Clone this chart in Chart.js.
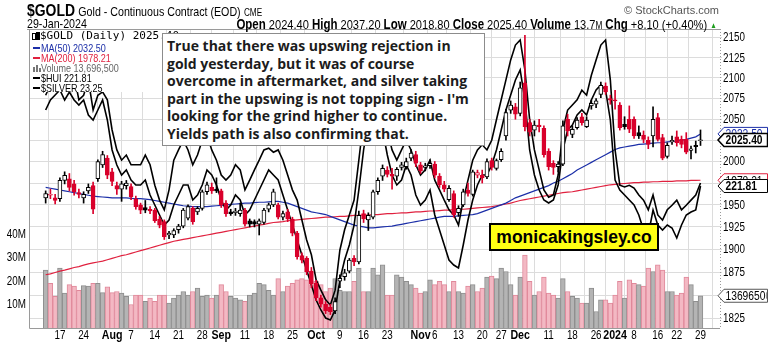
<!DOCTYPE html>
<html>
<head>
<meta charset="utf-8">
<title>$GOLD Daily</title>
<script src="https://cdn.jsdelivr.net/npm/chart.js@4.4.1/dist/chart.umd.min.js"></script>
<style>
  html, body { margin:0; padding:0; background:#fff; }
  #wrap { position:relative; width:768px; height:343px; overflow:hidden; background:#fff;
          font-family:"Liberation Sans",Arial,sans-serif; }
  #c { position:absolute; left:0; top:0; }
  /* condensed Arial look */
  .cx { display:inline-block; white-space:nowrap; transform:scaleX(0.82); transform-origin:0 50%; }
  .cxr { transform-origin:100% 50%; }
  #title { position:absolute; left:27px; top:1px; color:#000; }
  #title .sym { font-weight:bold; font-size:17px; }
  #title .nm { font-size:13px; margin-left:4px; }
  #title .ex { font-size:10px; margin-left:4px; }
  #date { position:absolute; left:27px; top:16px; font-size:13px; color:#000; }
  #quote { position:absolute; right:51px; top:16px; font-size:13.5px; color:#000; }
  #quote b { font-size:14px; }
  #quote .up { color:#1e9e1e; font-size:8px; vertical-align:1px; }
  #src { position:absolute; right:49px; top:4px; font-size:11px; color:#555; }
  #legend { position:absolute; left:30px; top:30px; width:133px; height:62px; background:#fff; }
  .row { position:absolute; left:0; white-space:nowrap; font-size:11px; line-height:12px; }
  .row .sw { position:absolute; left:3px; top:5px; width:7px; height:2px; }
  .row .tx { position:absolute; left:11px; top:0; }
  .row0 { font-family:"DejaVu Sans Mono",monospace; font-size:11px; }
  .cd { position:absolute; width:2px; border:1px solid #000; }
  .vb { position:absolute; width:2px; background:#777; }
  #note { position:absolute; left:162px; top:33px; width:323px; height:113px; background:#fff;
          border:1px solid #8c8c8c; font-family:"Open Sans",sans-serif; font-weight:700; white-space:nowrap;
          font-size:14px; line-height:17.5px; color:#1c1c1c; padding:3px 0 0 4px; box-sizing:border-box; }
  #mark { position:absolute; left:489px; top:223px; width:170px; height:28px; background:#ffff14;
          border:2px solid #000; box-sizing:border-box; font-weight:bold; font-size:17.5px;
          line-height:24px; text-align:center; color:#000; }
</style>
</head>
<body>
<div id="wrap">
  <canvas id="c" width="768" height="343"></canvas>
  <div id="title"><span class="cx"><span class="sym">$GOLD</span><span class="nm">Gold - Continuous Contract (EOD)</span><span class="ex">CME</span></span></div>
  <div id="date"><span class="cx">29-Jan-2024</span></div>
  <div id="src">© StockCharts.com</div>
  <div id="quote"><span class="cx cxr" id="quoteTx"></span></div>
  <div id="legend">
    <div class="row row0" style="top:0px">
      <span class="cd" style="left:2px;top:3px;height:5px"></span>
      <span class="cd" style="left:6px;top:2px;height:6px;background:#000"></span>
      <span class="tx" style="left:10px" id="lg0"></span>
    </div>
    <div class="row" style="top:12px;color:#1c2fa8"><span class="sw" style="background:#1c2fa8"></span><span class="tx cx" id="lg1"></span></div>
    <div class="row" style="top:22px;color:#e0213f"><span class="sw" style="background:#e0213f"></span><span class="tx cx" id="lg2"></span></div>
    <div class="row" style="top:32px;color:#666">
      <span class="vb" style="left:3px;top:5px;height:5px"></span><span class="vb" style="left:6px;top:3px;height:7px"></span><span class="vb" style="left:9px;top:6px;height:4px"></span>
      <span class="tx cx" id="lg3"></span></div>
    <div class="row" style="top:42px;color:#000"><span class="sw" style="background:#000"></span><span class="tx cx" id="lg4"></span></div>
    <div class="row" style="top:52px;color:#000"><span class="sw" style="background:#000"></span><span class="tx cx" id="lg5"></span></div>
  </div>
  <div id="note">True that there was upswing rejection in<br>gold yesterday, but it was of course<br>overcome in aftermarket, and silver taking<br>part in the upswing is not topping sign - I'm<br>looking for the grind higher to continue.<br>Yields path is also confirming that.</div>
  <div id="mark">monicakingsley.co</div>
</div>
<script>
// Daily $GOLD candles, 12-Jul-2023 .. 29-Jan-2024 (one entry per trading day)
const open = [1958,1961,1958,1957,1978,1980,1974,1964,1958,1966,
  1972,1980,1996,2004,1988,1972,1968,1972,1971,1957,
  1950,1947,1945,1944,1934,1931,1916,1916,1922,1926,
  1935,1946,1942,1946,1965,1970,1968,1966,1952,1942,
  1941,1940,1944,1932,1931,1928,1930,1945,1950,1950,
  1936,1942,1934,1918,1893,1890,1876,1863,1847,1840,
  1837,1833,1865,1870,1876,1890,1886,1940,1933,1936,
  1965,1983,1990,1985,1983,1993,1994,2004,2008,1996,
  1993,1995,1997,1983,1973,1956,1963,1941,1950,1967,
  1962,1984,1984,1982,2001,1992,2002,2030,2061,2065,
  2057,2094,2046,2037,2043,2039,2012,1998,1994,1997,
  2050,2032,2040,2053,2041,2066,2068,2080,2090,2075,
  2073,2067,2044,2050,2050,2034,2031,2025,2030,2052,
  2028,2006,2023,2029,2026,2026,2013,2019,2024.4];
const high = [1966,1968,1962,1981,1988,1986,1978,1968,1965,1974,
  1976,2002,2012,2007,1992,1976,1977,1978,1974,1960,
  1952,1955,1948,1946,1937,1933,1920,1923,1928,1946,
  1950,1948,1948,1967,1976,1975,1981,1968,1955,1945,
  1946,1952,1946,1934,1933,1934,1946,1952,1968,1952,
  1943,1945,1936,1920,1896,1892,1880,1866,1850,1843,
  1840,1847,1872,1878,1890,1893,1943,1944,1941,1967,
  1981,1996,1994,1992,1993,1999,2004,2014,2012,1999,
  1998,2002,2000,1986,1977,1972,1966,1949,1968,1975,
  1990,1990,1990,2003,2004,2003,2015,2062,2072,2069,
  2095,2153,2050,2048,2050,2042,2015,2001,2000,2048,
  2056,2042,2052,2057,2053,2073,2075,2095,2094,2079,
  2085,2070,2053,2066,2053,2042,2036,2029,2065,2057,
  2032,2022,2030,2036,2030,2034,2018,2024,2037.2];
const low = [1952,1957,1951,1954,1974,1966,1961,1958,1952,1963,
  1940,1977,1993,1980,1972,1962,1954,1968,1956,1945,
  1940,1941,1940,1930,1924,1911,1912,1913,1918,1924,
  1933,1928,1939,1944,1962,1963,1964,1947,1937,1938,
  1938,1937,1926,1925,1925,1916,1928,1942,1948,1934,
  1933,1931,1915,1889,1885,1872,1858,1844,1837,1830,
  1829,1830,1858,1866,1874,1882,1884,1930,1921,1934,
  1962,1978,1982,1968,1978,1990,1991,2001,1994,1986,
  1989,1992,1981,1970,1965,1954,1936,1937,1948,1960,
  1960,1981,1975,1980,1990,1990,2000,2025,2057,2050,
  2054,2036,2030,2030,2035,2005,1990,1985,1988,1995,
  2030,2028,2038,2043,2040,2062,2064,2076,2080,2068,
  2062,2037,2038,2034,2027,2027,2022,2015,2017,2024,
  2002,2004,2020,2018,2016,2009,2003,2010,2018.8];
const close = [1963,1962,1955,1978,1984,1970,1965,1962,1962,1970,
  1945,2000,2008,1984,1977,1968,1974,1975,1959,1948,
  1944,1944,1943,1932,1927,1914,1918,1921,1926,1944,
  1948,1931,1946,1965,1973,1966,1966,1950,1940,1940,
  1943,1944,1928,1928,1928,1932,1944,1950,1965,1936,
  1940,1934,1918,1892,1888,1875,1862,1847,1840,1833,
  1832,1843,1868,1874,1888,1886,1938,1934,1938,1965,
  1978,1992,1985,1983,1991,1996,2000,2010,1998,1989,
  1995,1998,1984,1973,1968,1969,1939,1946,1965,1963,
  1988,1987,1981,2000,1993,2001,2012,2058,2067,2056,
  2088,2041,2035,2043,2041,2008,1994,1993,1997,2042,
  2036,2038,2049,2046,2049,2069,2072,2091,2083,2073,
  2072,2040,2041,2038,2030,2030,2026,2020,2050,2026,
  2004,2019,2025,2022,2020,2011,2015,2017.3,2025.4];
// volume, millions of contracts
const volM = [24.6,19.0,13.5,25.4,14.8,18.4,17.8,16.0,18.0,17.8,
  19.0,19.0,15.0,17.5,15.0,15.5,14.8,13.4,10.0,14.0,
  14.0,11.3,12.7,11.3,14.0,14.0,10.6,12.7,14.0,15.5,
  14.0,15.5,17.0,13.4,14.0,12.7,14.0,18.4,15.5,13.4,
  12.7,12.0,11.3,14.0,14.8,19.0,18.4,16.0,14.0,21.0,
  15.5,17.8,19.0,20.5,21.0,20.5,18.4,19.8,18.4,15.5,
  17.0,21.0,16.0,15.5,15.5,19.8,25.4,15.5,15.5,25.4,
  22.6,26.8,14.0,14.0,22.6,21.6,19.8,18.4,17.0,14.8,
  15.5,20.5,18.4,19.8,18.4,15.5,19.8,15.5,14.8,17.8,
  18.4,15.5,17.0,21.6,22.0,21.0,25.4,24.0,18.4,14.0,
  21.6,31.0,19.8,14.0,15.5,21.6,14.8,14.0,12.7,21.0,
  15.5,13.4,12.7,10.6,10.6,17.0,7.0,12.0,12.0,10.6,
  14.0,19.8,12.7,20.5,19.0,18.4,17.8,25.4,24.0,26.8,
  24.6,15.5,15.5,14.0,14.8,21.6,18.4,11.3,13.6965];
const ma50 = [1970,1969,1968,1967,1966,1965,1964,1963,1962,1961,
  1960,1959.5,1959,1958.5,1958,1958,1958,1958,1957.5,1957,
  1957,1956.5,1956,1955,1954,1953,1952,1951,1950,1949,
  1948.5,1948,1948,1948,1948,1948.5,1949,1949.5,1950,1950.5,
  1951,1951.5,1952,1952,1952.5,1953,1953,1953.5,1954,1954,
  1953,1952,1950,1948,1946,1944,1942,1941,1940,1939,
  1937,1935,1933,1931,1929,1927,1926,1925,1924,1924,
  1924.5,1925,1925.5,1926,1927,1928,1929,1930,1931,1932,
  1933,1934,1935,1936,1937,1937,1937,1937.5,1938,1938.5,
  1939,1940,1942,1944,1946,1948,1950,1952,1955,1958,
  1960,1962,1964,1966,1968,1970,1972,1975,1977,1980,
  1983,1986,1990,1993,1996,1999,2002,2005,2008,2011,
  2014,2016,2017,2018,2019,2020,2020.5,2021,2021.5,2022,
  2022,2023,2023.5,2024,2025,2026,2027.5,2029,2032.5];
const ma200 = [1872,1873,1874.5,1876,1877,1878.5,1880,1881,1882.5,1884,
  1885,1886,1887,1888.5,1890,1891.5,1893,1894,1895.5,1897,
  1898.5,1900,1901.5,1903,1904.5,1906,1907.5,1909,1910,1911,
  1912,1913,1914,1915,1916,1917,1918,1919,1920,1921,
  1922,1923,1924,1925,1926,1927,1928,1929,1930,1930.5,
  1931,1932,1932.5,1933,1933.5,1934,1934.5,1935,1935.5,1936,
  1936,1936.5,1937,1937,1937.5,1938,1938,1938.5,1938.5,1939,
  1939,1939.5,1940,1940,1940.5,1941,1941,1941.5,1942,1942,
  1942.5,1943,1943,1943.5,1944,1944,1944.5,1945,1945,1945.5,
  1946,1946.5,1947,1947.5,1948,1949,1950,1951,1952,1953.5,
  1955,1956,1957,1958,1959,1960,1961,1962,1963,1964,
  1964.5,1965,1966,1967,1968,1969,1970,1971,1972,1973,
  1973.5,1974,1974.5,1975,1975.5,1975.5,1976,1976,1976.5,1976.5,
  1977,1977,1977,1977.5,1977.5,1977.5,1978,1978,1978.21];
const hui = [236.71,238.67,239.65,240.63,238.67,240.24,238.67,237.69,238.67,235.73,
  234.75,236.71,238.67,234.75,228.87,225.93,223.97,224.95,222.99,222.01,
  222.01,222.99,220.05,218.08,216.12,214.16,215.14,218.08,220.05,222.01,
  222.01,219.06,220.05,222.01,224.95,223.97,222.01,219.06,217.10,218.08,
  220.05,219.06,216.12,217.10,219.06,221.03,222.99,224.95,223.97,222.99,
  220.05,217.10,214.16,211.22,208.28,205.34,202.40,199.46,197.50,195.93,
  195.54,197.50,203.38,207.30,210.24,214.16,221.03,228.87,234.75,238.67,
  236.71,232.79,227.89,223.97,222.01,222.99,225.93,223.97,220.05,218.08,
  219.06,221.03,216.12,213.18,210.24,207.30,206.32,205.73,210.24,215.14,
  219.06,222.01,223.97,223.97,225.93,228.87,232.79,236.71,239.65,242.59,
  244.56,238.67,228.87,223.97,221.03,219.06,218.48,219.06,222.01,228.87,
  232.79,233.77,235.73,236.71,235.73,238.67,240.63,241.61,240.63,234.75,
  222.99,221.03,220.05,219.06,218.08,216.12,213.18,212.20,217.10,214.16,
  213.18,214.16,213.57,211.61,214.16,216.12,216.71,217.10,221.81];
const silver = [24.79,24.97,25.06,25.23,25.41,24.97,25.14,24.71,24.79,25.06,
  24.53,24.79,24.85,24.71,24.18,23.83,23.65,23.74,23.57,23.57,
  23.57,23.74,23.57,23.21,22.95,22.78,23.13,23.65,23.83,24.00,
  23.83,23.57,23.74,24.00,24.09,23.83,23.65,23.39,23.30,23.39,
  23.57,23.48,23.13,23.30,23.48,23.65,23.83,23.86,23.79,23.83,
  23.65,23.39,23.13,22.95,22.60,22.25,21.99,21.55,21.37,21.20,
  21.11,21.37,22.07,22.43,22.69,22.95,23.65,24.36,24.88,25.23,
  25.06,24.71,24.18,23.83,23.65,23.83,24.00,23.83,23.57,23.39,
  23.48,23.65,23.30,23.13,22.95,22.78,22.69,22.51,22.95,23.30,
  23.65,23.83,23.92,23.83,24.00,24.36,24.71,25.06,25.41,25.67,
  25.76,25.23,24.36,23.83,23.48,23.13,23.00,23.04,23.39,24.18,
  24.53,24.62,24.71,24.88,24.79,25.14,25.41,25.67,25.76,25.06,
  23.83,23.21,23.18,23.21,23.16,23.04,22.95,22.78,23.04,22.69,
  22.60,22.78,22.86,22.95,22.78,22.86,22.95,23.04,23.25];

// axis ticks: trading-day index of each date label
const tickPos  = [3,8,14,18,23,28,33,37,42,47,52,57,62,67,72,79,82,87,92,96,100,106,111,116,120,124,129,133,138];
const tickText = ['17','24','Aug','7','14','21','28','Sep','11','18','25','Oct','9','16','23','Nov','6','13','20','27','Dec','11','18','26','2024','8','16','22','29'];
const monthTicks = ['Aug','Sep','Oct','Nov','Dec','2024'];
const priceTicks = [1825,1850,1875,1900,1925,1950,1975,2000,2025,2050,2075,2100,2125,2150];
const volTicks = [10,20,30,40];

const SANS = '"Liberation Sans",Arial,sans-serif';
const COND = 0.82;            // horizontal squeeze for the narrow axis lettering
const RED = '#d9002b', BLK = '#000000';
const n = close.length;
const last = n - 1;

// StockCharts-style colouring: hollow when close >= open, red when close < previous close
const bodyFill = [], edge = [], volFill = [], volEdge = [];
for (let i = 0; i < n; i++) {
  const prev = i ? close[i - 1] : open[i];
  const down = close[i] < prev;
  const c = down ? RED : BLK;
  edge.push(c);
  bodyFill.push(close[i] >= open[i] ? '#ffffff' : c);
  volFill.push(down ? '#f3b8c3' : '#b4b4b4');
  volEdge.push(down ? '#e0889a' : '#8e8e8e');
}
const pts = arr => arr.map((v, i) => ({ x: i, y: v }));

// header and legend texts from the latest values
const chg = close[last] - close[last - 1];
const fmtInt = v => Math.round(v).toLocaleString('en-US');
document.getElementById('quoteTx').innerHTML =
  '<b>Open</b> ' + open[last].toFixed(2) + ' <b>High</b> ' + high[last].toFixed(2) +
  ' <b>Low</b> ' + low[last].toFixed(2) + ' <b>Close</b> ' + close[last].toFixed(2) +
  ' <b>Volume</b> ' + volM[last].toFixed(1) + '<span style="font-size:10px">M</span>' +
  ' <b>Chg</b> ' + (chg >= 0 ? '+' : '') + chg.toFixed(2) + ' (' + (chg >= 0 ? '+' : '') +
  (chg / close[last - 1] * 100).toFixed(2) + '%) <span class="up">▲</span>';
document.getElementById('lg0').textContent = '$GOLD (Daily) ' + close[last].toFixed(2);
document.getElementById('lg1').textContent = 'MA(50) ' + ma50[last].toFixed(2);
document.getElementById('lg2').textContent = 'MA(200) ' + ma200[last].toFixed(2);
document.getElementById('lg3').textContent = 'Volume ' + fmtInt(volM[last] * 1e6);
document.getElementById('lg4').textContent = '$HUI ' + hui[last].toFixed(2);
document.getElementById('lg5').textContent = '$SILVER ' + silver[last].toFixed(2);

function narrowText(ctx, text, x, y, align, font, color) {
  ctx.save();
  ctx.font = font; ctx.fillStyle = color; ctx.textBaseline = 'middle'; ctx.textAlign = align;
  ctx.translate(x, y); ctx.scale(COND, 1);
  ctx.fillText(text, 0, 0);
  ctx.restore();
}

// frame, axis lettering and last-value tags
const framePlugin = {
  id: 'frame',
  afterDraw(chart) {
    const { ctx, chartArea: a, scales } = chart;
    ctx.save();
    ctx.strokeStyle = '#9a9a9a';
    ctx.lineWidth = 1;
    ctx.beginPath();
    ctx.moveTo(27, a.top + 0.5); ctx.lineTo(a.right, a.top + 0.5);
    ctx.moveTo(a.left + 0.5, a.top); ctx.lineTo(a.left + 0.5, a.bottom + 0.5);
    ctx.lineTo(a.right, a.bottom + 0.5);
    ctx.stroke();
    ctx.setLineDash([1, 2]);
    ctx.beginPath();
    ctx.moveTo(a.right + 0.5, a.top); ctx.lineTo(a.right + 0.5, a.bottom + 1);
    ctx.stroke();
    ctx.setLineDash([]);

    // axis labels at the scales' own tick positions
    scales.y.ticks.forEach(t => narrowText(ctx, String(t.value), a.right + 3,
      scales.y.getPixelForValue(t.value) + 0.5, 'left', '12px ' + SANS, '#000'));
    scales.yVol.ticks.forEach(t => narrowText(ctx, t.value + 'M', a.left - 3,
      scales.yVol.getPixelForValue(t.value) + 0.5, 'right', '12px ' + SANS, '#000'));
    scales.x.ticks.forEach(t => {
      const txt = tickText[tickPos.indexOf(t.value)];
      const bold = monthTicks.includes(txt);
      narrowText(ctx, txt, scales.x.getPixelForValue(t.value), a.bottom + 7.5, 'center',
        (bold ? 'bold 13px ' : '12px ') + SANS, '#000');
    });

    const tag = (yc, text, stroke, color, bold, lw) => {
      const x0 = a.right - 2, x1 = a.right + 4, x2 = 767.5, h = 6.5;
      ctx.beginPath();
      ctx.moveTo(x0, yc); ctx.lineTo(x1, yc - h); ctx.lineTo(x2, yc - h);
      ctx.lineTo(x2, yc + h); ctx.lineTo(x1, yc + h); ctx.closePath();
      ctx.fillStyle = '#fff'; ctx.fill();
      ctx.lineWidth = lw; ctx.strokeStyle = stroke; ctx.stroke();
      ctx.save();
      ctx.beginPath(); ctx.rect(x1, yc - h, x2 - x1 - 1, 2 * h); ctx.clip();
      narrowText(ctx, text, x1 + 1.5, yc + 1, 'left', (bold ? 'bold ' : '') + '12.5px ' + SANS, color);
      ctx.restore();
    };
    const y = scales.y;
    tag(y.getPixelForValue(ma50[last]), ma50[last].toFixed(2), '#1c2fa8', '#1c2fa8', false, 1);
    tag(y.getPixelForValue(close[last]), close[last].toFixed(2), '#000', '#000', true, 1.5);
    tag(y.getPixelForValue(ma200[last]), ma200[last].toFixed(2), '#e0213f', '#000', false, 1);
    tag(scales.yHui.getPixelForValue(hui[last]), hui[last].toFixed(2), '#000', '#000', true, 1);
    tag(scales.yVol.getPixelForValue(volM[last]), String(Math.round(volM[last] * 1e6)), '#555', '#000', false, 1);
    ctx.restore();
  }
};

new Chart(document.getElementById('c'), {
  type: 'bar',
  data: {
    datasets: [
      { type: 'bar', label: 'body', data: open.map((o, i) => ({ x: i, y: [o, close[i]] })),
        yAxisID: 'y', grouped: false, barThickness: 4, minBarLength: 1,
        backgroundColor: bodyFill, borderColor: edge, borderWidth: 1, borderSkipped: false, order: 1 },
      { type: 'bar', label: 'wick', data: low.map((l, i) => ({ x: i, y: [l, high[i]] })),
        yAxisID: 'y', grouped: false, barThickness: 1, backgroundColor: edge, borderWidth: 0, order: 2 },
      { type: 'line', label: '$HUI', data: pts(hui), yAxisID: 'yHui', borderColor: '#000',
        borderWidth: 1.6, pointRadius: 0, tension: 0, order: 3 },
      { type: 'line', label: '$SILVER', data: pts(silver), yAxisID: 'ySil', borderColor: '#000',
        borderWidth: 1.6, pointRadius: 0, tension: 0, order: 3 },
      { type: 'line', label: 'MA(50)', data: pts(ma50), yAxisID: 'y', borderColor: '#1c2fa8',
        borderWidth: 1.2, pointRadius: 0, tension: 0, order: 4 },
      { type: 'line', label: 'MA(200)', data: pts(ma200), yAxisID: 'y', borderColor: '#e0213f',
        borderWidth: 1.2, pointRadius: 0, tension: 0, order: 4 },
      { type: 'bar', label: 'Volume', data: pts(volM), yAxisID: 'yVol', grouped: false,
        barPercentage: 1, categoryPercentage: 1, backgroundColor: volFill, borderColor: volEdge,
        borderWidth: 1, borderSkipped: 'bottom', order: 10 }
    ]
  },
  options: {
    responsive: false,
    devicePixelRatio: 1,
    animation: false,
    events: [],
    layout: { padding: { top: 29, left: 0, right: 0, bottom: 0 } },
    plugins: { legend: { display: false }, tooltip: { enabled: false } },
    scales: {
      x: {
        type: 'linear', min: -1.0, max: 139.6, position: 'bottom',
        afterBuildTicks: s => { s.ticks = tickPos.map(v => ({ value: v })); },
        afterFit: s => { s.height = 15; },
        grid: { color: '#dcdcdc', drawTicks: false },
        border: { display: false },
        ticks: { display: false, autoSkip: false }
      },
      y: {
        type: 'logarithmic', position: 'right', min: 1814.7, max: 2160.9,
        afterBuildTicks: s => { s.ticks = priceTicks.map(v => ({ value: v })); },
        afterFit: s => { s.width = 48; },
        grid: { color: '#dcdcdc', tickLength: 2 },
        border: { display: false },
        ticks: { display: false, autoSkip: false }
      },
      yVol: {
        type: 'linear', position: 'left', min: 0, max: 127,
        afterBuildTicks: s => { s.ticks = volTicks.map(v => ({ value: v })); },
        afterFit: s => { s.width = 29; },
        grid: { drawOnChartArea: false, drawTicks: false },
        border: { display: false },
        ticks: { display: false }
      },
      yHui: { type: 'linear', display: false, min: 193.97, max: 252.59 },
      ySil: { type: 'linear', display: false, min: 20.706, max: 25.952 }
    }
  },
  plugins: [framePlugin]
});
</script>
</body>
</html>
